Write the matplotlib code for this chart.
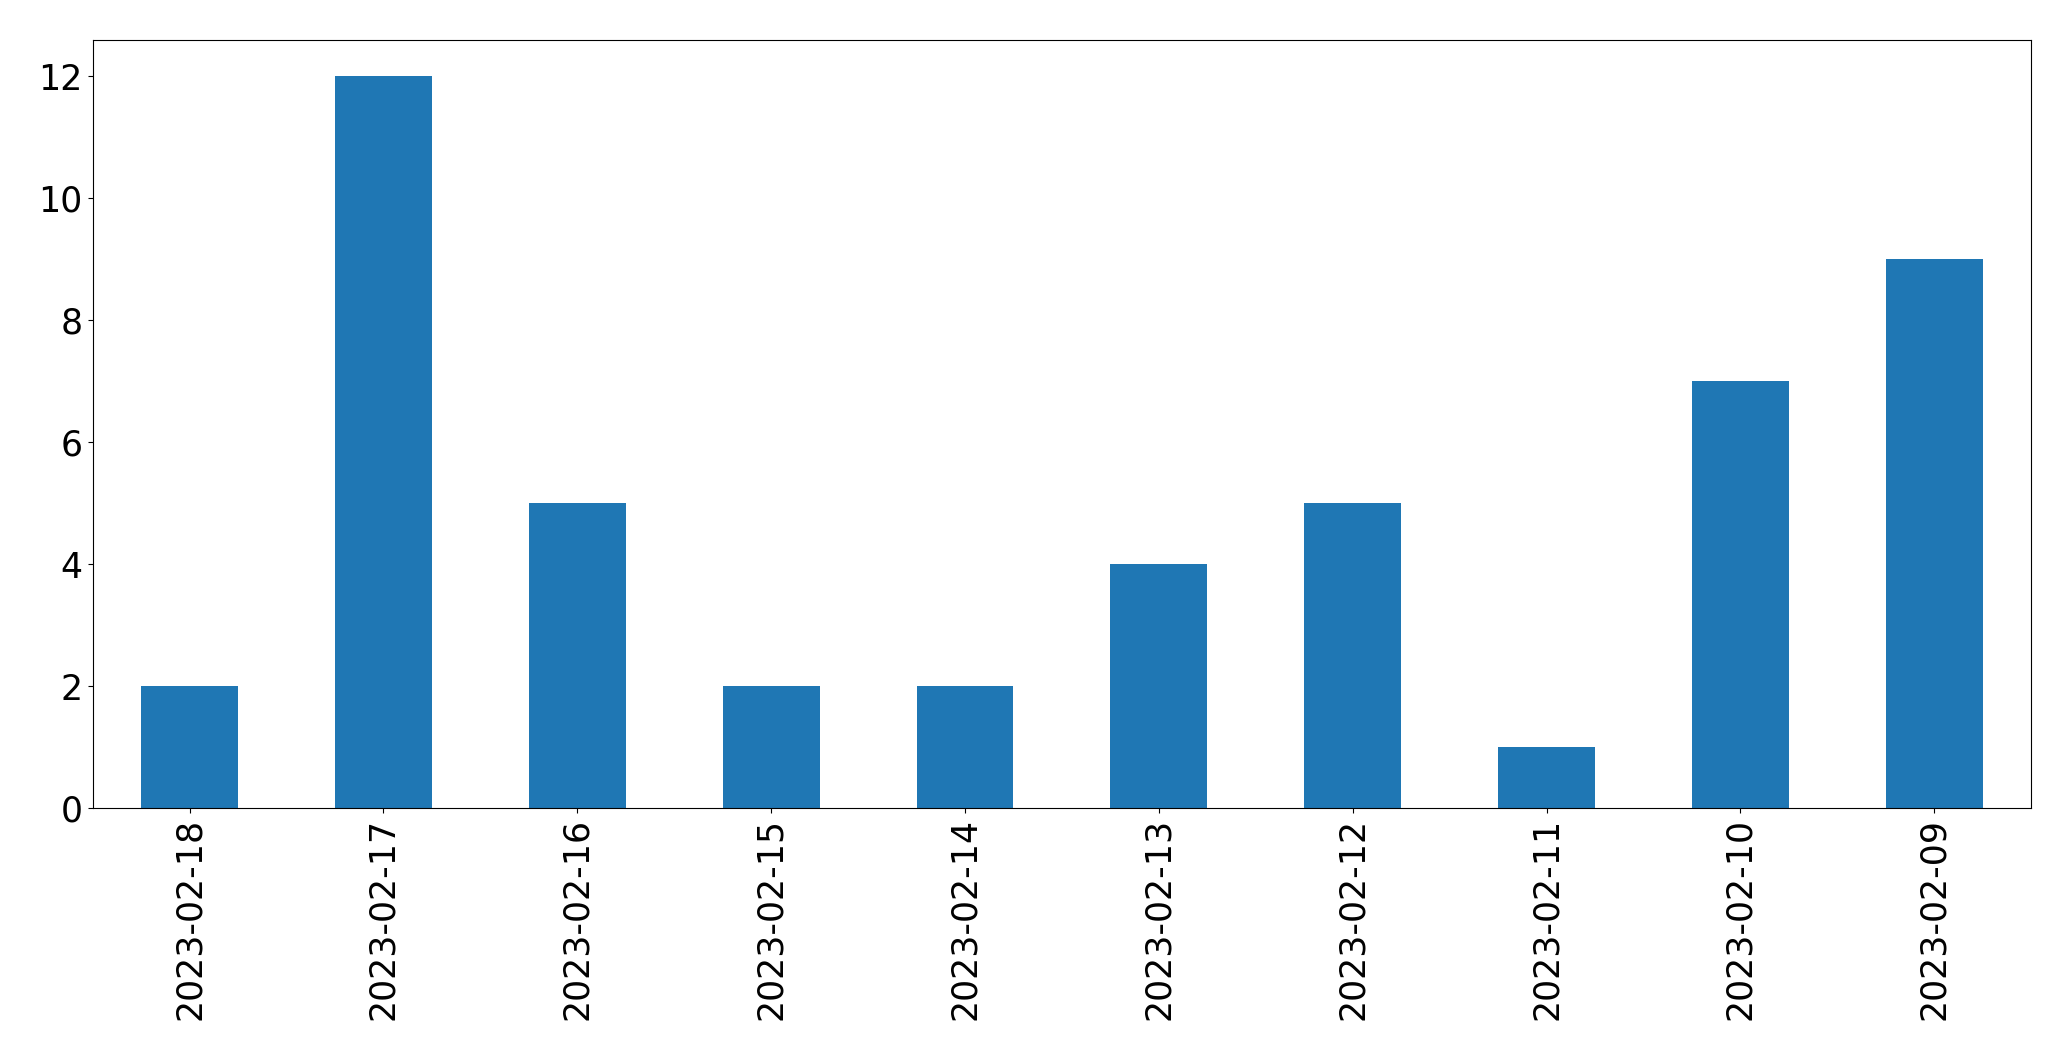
import matplotlib
matplotlib.use("Agg")
import matplotlib.pyplot as plt
import pandas as pd

dates = ['2023-02-18', '2023-02-17', '2023-02-16', '2023-02-15', '2023-02-14',
         '2023-02-13', '2023-02-12', '2023-02-11', '2023-02-10', '2023-02-09']
counts = [2, 12, 5, 2, 2, 4, 5, 1, 7, 9]

s = pd.Series(counts, index=dates)

fig, ax = plt.subplots(figsize=(20.71, 10.61), dpi=100)
s.plot.bar(ax=ax, fontsize=25)
plt.subplots_adjust(left=0.0447, right=0.9808, top=0.9627, bottom=0.2384)
plt.savefig("out.png", dpi=100)
